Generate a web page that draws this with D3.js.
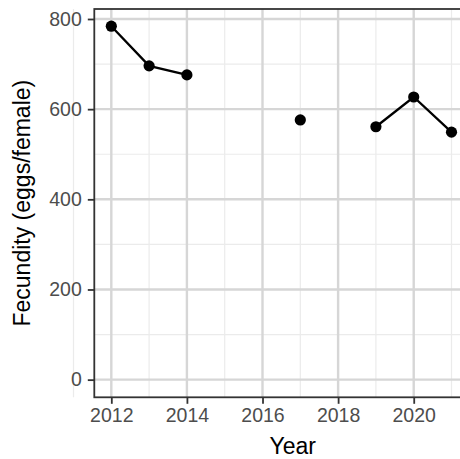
<!DOCTYPE html>
<html><head><meta charset="utf-8">
<script src="https://cdn.jsdelivr.net/npm/d3@7"></script>
<style>body{margin:0;background:#fff}svg{display:block;font-family:"Liberation Sans",Arial,sans-serif}</style>
</head><body><svg id="c" width="460" height="459"></svg>
<script>
const years = [2012, 2013, 2014, 2017, 2019, 2020, 2021];
const fecundity = [784, 696, 676, 576, 561, 627, 549];
const xTicks = [2012, 2014, 2016, 2018, 2020];
const xMinor = [2011, 2013, 2015, 2017, 2019, 2021];
const yTicks = [0, 200, 400, 600, 800];
const yMinor = [100, 300, 500, 700];

const svg = d3.select("#c");
const L = 94.3, T = 9, B = 397.3;
const x = d3.scaleLinear().domain([2011.55, 2021.45]).range([L, L + 9.9 * 37.8]);
const y = d3.scaleLinear().domain([-39.15, 822.15]).range([B, T]);
const R = x.range()[1];

const g = svg.append("g");
g.append("rect").attr("x", L).attr("y", T).attr("width", R - L).attr("height", B - T).attr("fill", "#fff");
g.selectAll(".xm").data(xMinor).join("line").attr("x1", d => x(d)).attr("x2", d => x(d)).attr("y1", T).attr("y2", B).attr("stroke", "#EBEBEB").attr("stroke-width", 1.2);
g.selectAll(".ym").data(yMinor).join("line").attr("y1", d => y(d)).attr("y2", d => y(d)).attr("x1", L).attr("x2", R).attr("stroke", "#EBEBEB").attr("stroke-width", 1.2);
g.selectAll(".xM").data(xTicks).join("line").attr("x1", d => x(d)).attr("x2", d => x(d)).attr("y1", T).attr("y2", B).attr("stroke", "#D6D6D6").attr("stroke-width", 2.4);
g.selectAll(".yM").data(yTicks).join("line").attr("y1", d => y(d)).attr("y2", d => y(d)).attr("x1", L).attr("x2", R).attr("stroke", "#D6D6D6").attr("stroke-width", 2.4);

const pts = years.map((yr, i) => ({yr, v: fecundity[i]}));
const segs = [];
let cur = [];
pts.forEach((p, i) => {
  if (i > 0 && p.yr - pts[i - 1].yr > 1) { segs.push(cur); cur = []; }
  cur.push(p);
});
segs.push(cur);
const line = d3.line().x(d => x(d.yr)).y(d => y(d.v));
g.selectAll(".seg").data(segs.filter(s => s.length > 1)).join("path").attr("d", line)
  .attr("fill", "none").attr("stroke", "#000").attr("stroke-width", 2.3);
g.selectAll(".pt").data(pts).join("circle").attr("cx", d => x(d.yr)).attr("cy", d => y(d.v)).attr("r", 5.6).attr("fill", "#000");

g.append("rect").attr("x", L).attr("y", T).attr("width", R - L).attr("height", B - T).attr("fill", "none").attr("stroke", "#333").attr("stroke-width", 1.8);

const xa = svg.append("g").attr("transform", `translate(0,${B})`)
  .call(d3.axisBottom(x).tickValues(xTicks).tickFormat(d3.format("d")).tickSize(6.5).tickPadding(4));
const ya = svg.append("g").attr("transform", `translate(${L},0)`)
  .call(d3.axisLeft(y).tickValues(yTicks).tickSize(6.5).tickPadding(6));
[xa, ya].forEach(a => {
  a.select(".domain").remove();
  a.selectAll(".tick line").attr("stroke", "#333").attr("stroke-width", 1.8);
  a.selectAll(".tick text").attr("fill", "#4D4D4D").style("font-size", "19.5px").style("font-family", '"Liberation Sans",Arial,sans-serif');
});

svg.append("text").attr("x", x(2016.8)).attr("y", 454).attr("text-anchor", "middle")
  .style("font-size", "23px").attr("fill", "#000").text("Year");
svg.append("text").attr("transform", `translate(30,${(T + B) / 2}) rotate(-90)`).attr("text-anchor", "middle")
  .style("font-size", "23px").attr("fill", "#000").text("Fecundity (eggs/female)");
</script></body></html>
